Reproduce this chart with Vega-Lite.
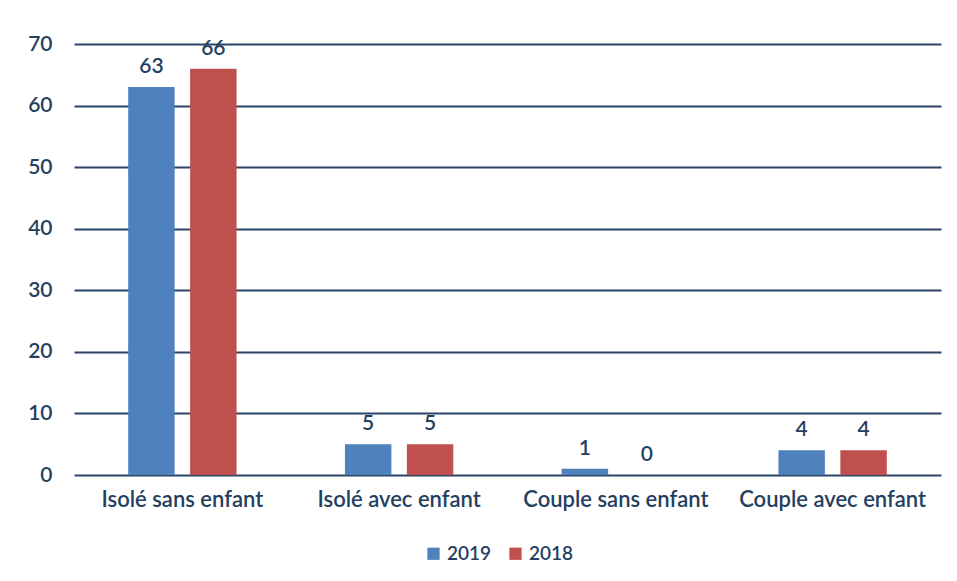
{
  "$schema": "https://vega.github.io/schema/vega-lite/v6.json",
  "autosize": "none",
  "width": 867,
  "height": 431,
  "padding": {"left": 74, "top": 44, "right": 16, "bottom": 106},
  "background": "white",
  "data": {"values": [
    {"cat": "Isolé sans enfant", "year": "2019", "value": 63},
    {"cat": "Isolé sans enfant", "year": "2018", "value": 66},
    {"cat": "Isolé avec enfant", "year": "2019", "value": 5},
    {"cat": "Isolé avec enfant", "year": "2018", "value": 5},
    {"cat": "Couple sans enfant", "year": "2019", "value": 1},
    {"cat": "Couple sans enfant", "year": "2018", "value": 0},
    {"cat": "Couple avec enfant", "year": "2019", "value": 4},
    {"cat": "Couple avec enfant", "year": "2018", "value": 4}
  ]},
  "encoding": {
    "x": {
      "field": "cat", "type": "nominal", "sort": null,
      "scale": {"paddingInner": 0.5, "paddingOuter": 0.25},
      "axis": {"title": null, "labelAngle": 0, "domain": false, "ticks": false, "labelLimit": 0, "labelPadding": 14, "labelFontSize": 22, "labelFont": "Lato", "labelFontWeight": 600, "labelColor": "#243F60"}
    },
    "xOffset": {"field": "year", "type": "nominal", "sort": ["2019", "2018"], "scale": {"paddingInner": 0.25, "paddingOuter": 0}},
    "y": {
      "field": "value", "type": "quantitative",
      "scale": {"domain": [0, 70], "nice": false},
      "axis": {"title": null, "values": [0, 10, 20, 30, 40, 50, 60, 70], "domain": false, "ticks": false, "labelPadding": 22, "labelFontSize": 21, "labelFont": "Lato", "labelFontWeight": 600, "labelColor": "#243F60", "gridColor": "#2B4468", "gridWidth": 2, "gridOpacity": 1}
    }
  },
  "layer": [
    {
      "mark": {"type": "bar"},
      "encoding": {
        "color": {
          "field": "year", "type": "nominal",
          "scale": {"domain": ["2019", "2018"], "range": ["#4F81BD", "#C0504D"]},
          "legend": {"title": null, "orient": "none", "direction": "horizontal", "legendX": 350, "legendY": 500, "symbolType": "square", "symbolSize": 150, "symbolStrokeWidth": 0, "labelFontSize": 19, "labelFont": "Lato", "labelFontWeight": 600, "labelColor": "#243F60", "columnPadding": 14, "labelOffset": 4}
        }
      }
    },
    {
      "mark": {"type": "text", "baseline": "alphabetic", "dy": -14, "fontSize": 21, "font": "Lato", "fontWeight": 600, "color": "#243F60"},
      "encoding": {"text": {"field": "value", "type": "quantitative"}}
    }
  ],
  "config": {"view": {"stroke": null}}
}
